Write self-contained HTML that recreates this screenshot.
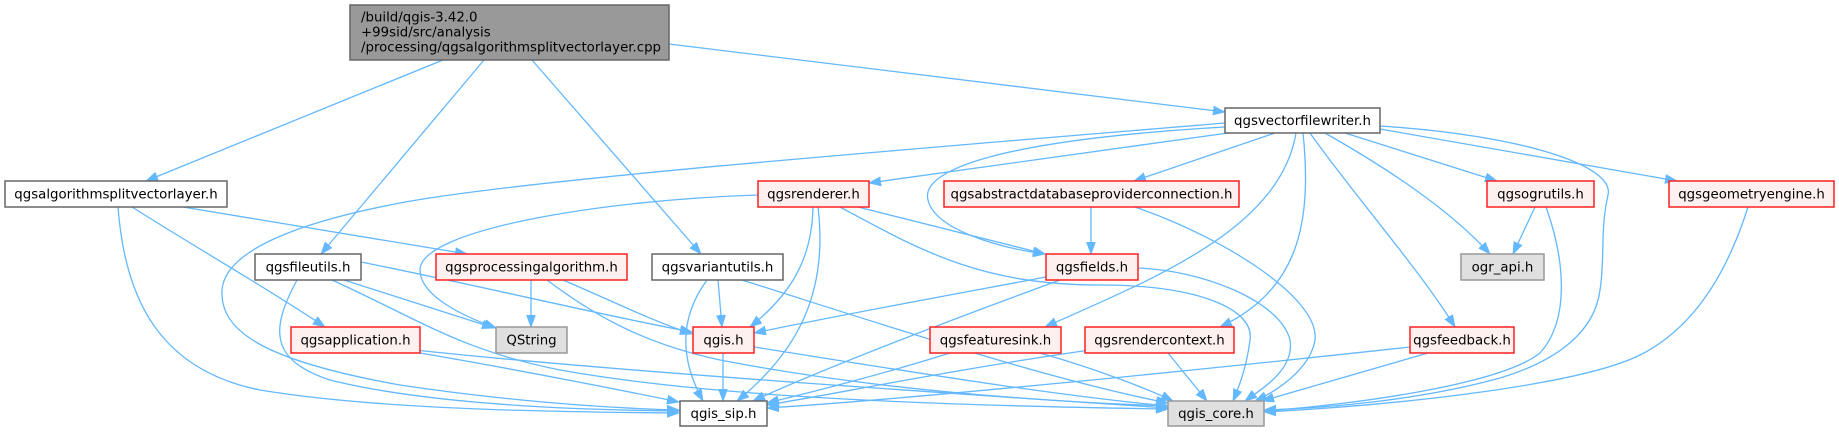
<!DOCTYPE html>
<html><head><meta charset="utf-8"><style>
html,body{margin:0;padding:0;background:#fff;}
svg{display:block;}
text{font-family:"DejaVu Sans","Liberation Sans",sans-serif;font-size:13.33px;fill:#000;}
.e{fill:none;stroke:#63b8ff;stroke-width:1.3;marker-end:url(#a);}
.w{fill:#fff;stroke:#666;stroke-width:1.5;}
.r{fill:#fff0f0;stroke:#ff2020;stroke-width:1.5;}
.g{fill:#e0e0e0;stroke:#999;stroke-width:1.5;}
</style></head><body>
<svg width="1839" height="432" viewBox="0 0 1839 432" xmlns="http://www.w3.org/2000/svg">
<defs><marker id="a" markerWidth="13" markerHeight="10" refX="12" refY="4.5" orient="auto" markerUnits="userSpaceOnUse"><path d="M0,0 L12,4.5 L0,9 z" fill="#63b8ff" stroke="#63b8ff" stroke-width="0.8"/></marker></defs>
<g>
<path class="e" d="M443,60 L146,181"/>
<path class="e" d="M484,60 L321,254"/>
<path class="e" d="M532,60 L701,254"/>
<path class="e" d="M669,44 L1225,112"/>
<path class="e" d="M183,207 L467,254"/>
<path class="e" d="M132,207 C200,250 270,290 325,327"/>
<path class="e" d="M118,207 C125,300 160,370 260,390 C380,410 560,412 679,413"/>
<path class="e" d="M1225,123 C900,150 520,180 400,203 C300,222 225,250 222,290 C220,330 260,360 400,385 C500,400 600,408 679,410"/>
<path class="e" d="M1228,133 L869,183"/>
<path class="e" d="M1275,133 L1134,181"/>
<path class="e" d="M1225,127 C1000,140 920,170 928,200 C935,230 1000,248 1045,254"/>
<path class="e" d="M1296,133 C1280,230 1150,280 1045,327"/>
<path class="e" d="M1303,133 C1312,220 1300,290 1220,327"/>
<path class="e" d="M1310,133 C1350,190 1420,270 1455,327"/>
<path class="e" d="M1325,133 C1390,170 1450,210 1490,254"/>
<path class="e" d="M1345,133 L1497,181"/>
<path class="e" d="M1380,129 L1677,181"/>
<path class="e" d="M1380,126 C1520,135 1615,165 1608,195 C1600,230 1605,260 1600,290 C1595,330 1560,360 1500,378 C1420,400 1330,408 1264,410"/>
<path class="e" d="M758,195 C600,200 420,230 420,270 C420,295 460,315 496,328"/>
<path class="e" d="M858,207 L1045,254"/>
<path class="e" d="M813,207 C812,260 790,295 750,327"/>
<path class="e" d="M818,207 C828,290 800,350 737,401"/>
<path class="e" d="M840,207 C920,250 980,285 1100,285 C1200,285 1255,310 1250,340 C1247,365 1240,385 1233,401"/>
<path class="e" d="M1091,207 L1091,254"/>
<path class="e" d="M1138,268 C1200,270 1280,300 1290,340 C1295,370 1260,390 1245,401"/>
<path class="e" d="M1135,207 C1230,240 1320,300 1315,340 C1310,370 1275,392 1255,401"/>
<path class="e" d="M1535,207 L1513,254"/>
<path class="e" d="M1546,207 C1565,260 1570,320 1540,353 C1500,385 1350,405 1264,411"/>
<path class="e" d="M1748,207 C1725,280 1690,330 1640,355 C1580,385 1400,405 1264,412"/>
<path class="e" d="M344,280 L494,328"/>
<path class="e" d="M361,262 C500,290 600,315 692,332"/>
<path class="e" d="M297,280 C270,330 270,360 330,380 C430,405 580,410 679,411"/>
<path class="e" d="M332,280 C420,320 460,350 560,370 C700,395 900,405 1168,409"/>
<path class="e" d="M531,280 L531,327"/>
<path class="e" d="M563,280 C610,300 650,320 692,334"/>
<path class="e" d="M547,280 C600,320 650,345 720,360 C850,385 1000,400 1168,406"/>
<path class="e" d="M718,280 L722,327"/>
<path class="e" d="M707,280 C685,310 675,350 703,401"/>
<path class="e" d="M742,280 C900,330 1050,380 1168,403"/>
<path class="e" d="M1046,277 C950,295 840,315 754,333"/>
<path class="e" d="M1060,280 C950,320 820,370 753,401"/>
<path class="e" d="M420,353 C520,370 620,390 679,402"/>
<path class="e" d="M415,350 C600,370 900,390 1168,408"/>
<path class="e" d="M723,353 L723,401"/>
<path class="e" d="M754,347 C900,370 1050,395 1168,406"/>
<path class="e" d="M950,353 C880,375 800,395 767,403"/>
<path class="e" d="M1040,353 C1100,370 1150,390 1173,401"/>
<path class="e" d="M1090,350 C950,370 830,395 767,405"/>
<path class="e" d="M1168,353 L1207,401"/>
<path class="e" d="M1410,347 C1200,370 900,400 767,408"/>
<path class="e" d="M1428,353 L1262,401"/>
</g>
<g>
<rect x="350" y="5" width="319" height="55" fill="#999" stroke="#666" stroke-width="1.5"/>
<text x="361" y="21.5">/build/qgis-3.42.0</text>
<text x="361" y="36.5">+99sid/src/analysis</text>
<text x="361" y="51.5">/processing/qgsalgorithmsplitvectorlayer.cpp</text>

<rect class="w" x="5" y="181" width="222" height="26"/><text x="116" y="198.5" text-anchor="middle">qgsalgorithmsplitvectorlayer.h</text>
<rect class="w" x="1225" y="108" width="155" height="25"/><text x="1302.5" y="125" text-anchor="middle">qgsvectorfilewriter.h</text>
<rect class="r" x="758" y="181" width="111" height="26"/><text x="813.5" y="198.5" text-anchor="middle">qgsrenderer.h</text>
<rect class="r" x="944" y="181" width="295" height="26"/><text x="1091.5" y="198.5" text-anchor="middle">qgsabstractdatabaseproviderconnection.h</text>
<rect class="r" x="1487" y="181" width="107" height="26"/><text x="1540.5" y="198.5" text-anchor="middle">qgsogrutils.h</text>
<rect class="r" x="1669" y="181" width="165" height="26"/><text x="1751.5" y="198.5" text-anchor="middle">qgsgeometryengine.h</text>

<rect class="w" x="255" y="254" width="106" height="26"/><text x="308" y="271.5" text-anchor="middle">qgsfileutils.h</text>
<rect class="r" x="436" y="254" width="191" height="26"/><text x="531.5" y="271.5" text-anchor="middle">qgsprocessingalgorithm.h</text>
<rect class="w" x="652" y="254" width="131" height="26"/><text x="717.5" y="271.5" text-anchor="middle">qgsvariantutils.h</text>
<rect class="r" x="1046" y="254" width="92" height="26"/><text x="1092" y="271.5" text-anchor="middle">qgsfields.h</text>
<rect class="g" x="1461" y="254" width="83" height="26"/><text x="1502.5" y="271.5" text-anchor="middle">ogr_api.h</text>

<rect class="r" x="291" y="327" width="129" height="26"/><text x="355.5" y="344.5" text-anchor="middle">qgsapplication.h</text>
<rect class="g" x="496" y="327" width="71" height="26"/><text x="531.5" y="344.5" text-anchor="middle">QString</text>
<rect class="r" x="693" y="327" width="61" height="26"/><text x="723.5" y="344.5" text-anchor="middle">qgis.h</text>
<rect class="r" x="930" y="327" width="131" height="26"/><text x="995.5" y="344.5" text-anchor="middle">qgsfeaturesink.h</text>
<rect class="r" x="1085" y="327" width="149" height="26"/><text x="1159.5" y="344.5" text-anchor="middle">qgsrendercontext.h</text>
<rect class="r" x="1410" y="327" width="104" height="26"/><text x="1462" y="344.5" text-anchor="middle">qgsfeedback.h</text>

<rect class="w" x="680" y="401" width="87" height="25"/><text x="723.5" y="418" text-anchor="middle">qgis_sip.h</text>
<rect class="g" x="1168" y="401" width="96" height="25"/><text x="1216" y="418" text-anchor="middle">qgis_core.h</text>
</g>
</svg>
</body></html>
